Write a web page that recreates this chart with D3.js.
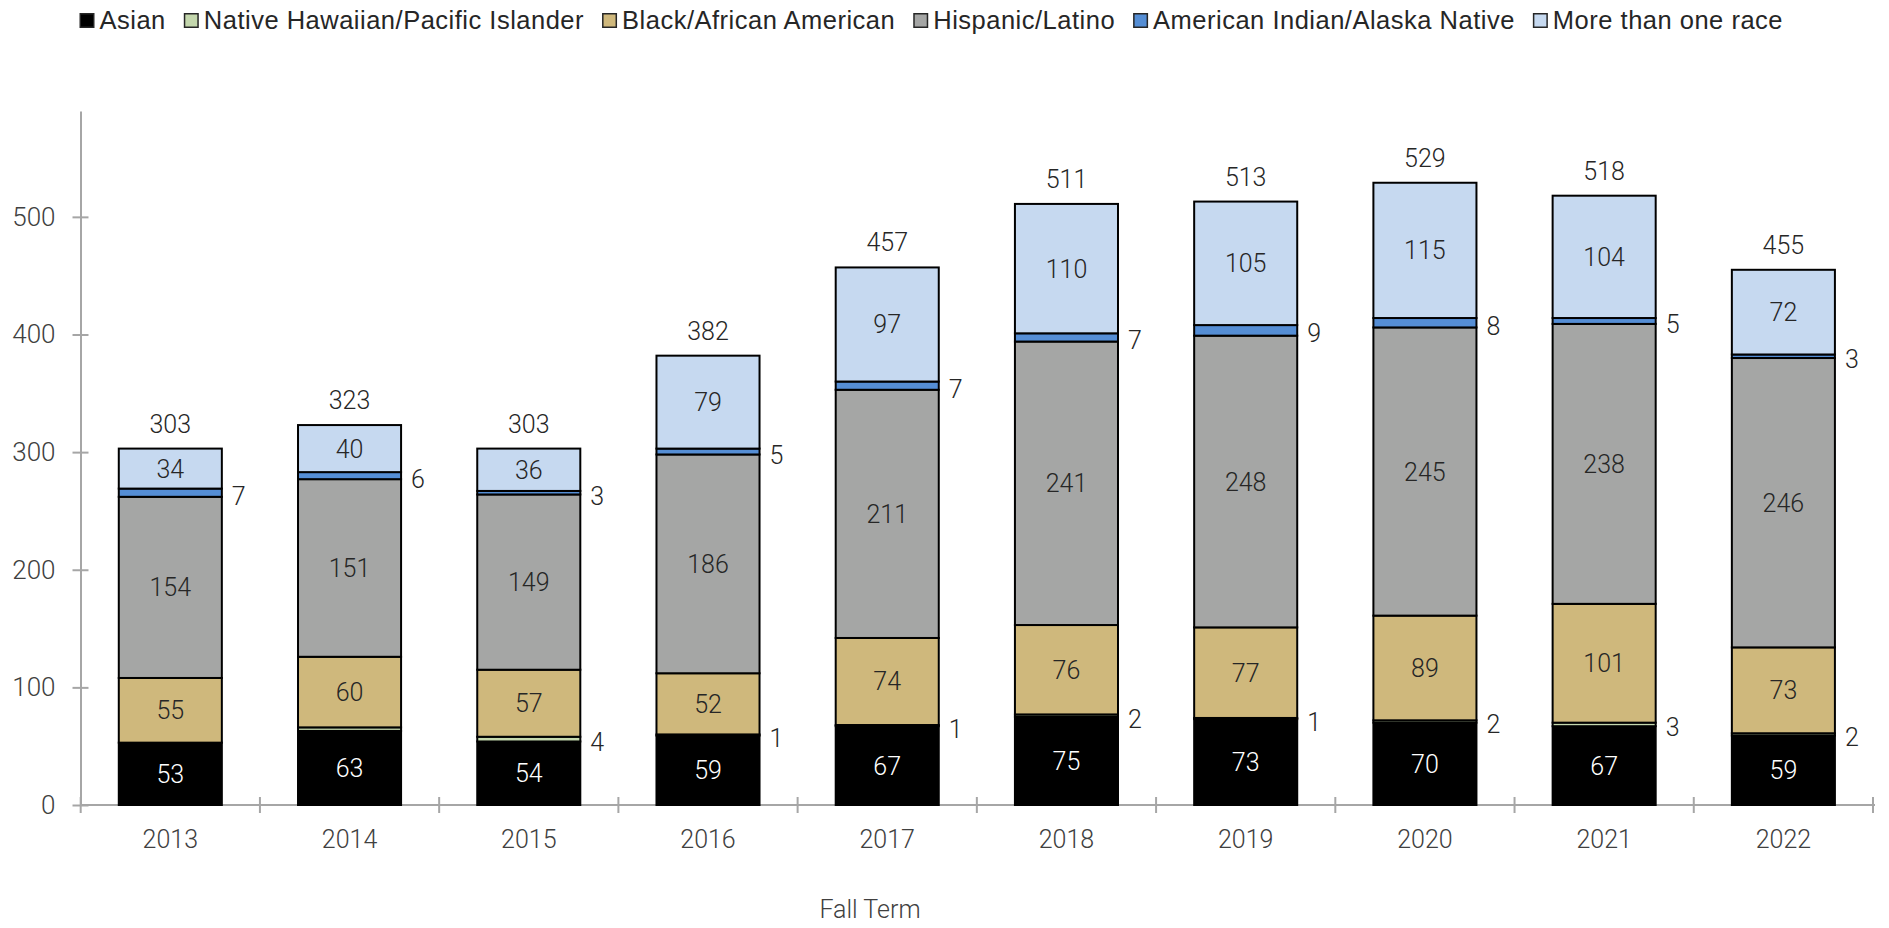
<!DOCTYPE html>
<html>
<head>
<meta charset="utf-8">
<script src="https://cdn.jsdelivr.net/npm/d3@7"></script>
<style>
  body { margin: 0; background: #fff; }
  svg { display: block; }
</style>
</head>
<body>
<script>
// DATA ––––––––––––––––––––––––––––––––––––––––––––––––––––––––––––––––––

var years = ["2013", "2014", "2015", "2016", "2017", "2018", "2019", "2020", "2021", "2022"];

var asian    = [53, 63, 54, 59, 67, 75, 73, 70, 67, 59];
var nhpi     = [0, 3, 4, 1, 1, 2, 1, 2, 3, 2];
var black    = [55, 60, 57, 52, 74, 76, 77, 89, 101, 73];
var hispanic = [154, 151, 149, 186, 211, 241, 248, 245, 238, 246];
var aian     = [7, 6, 3, 5, 7, 7, 9, 8, 5, 3];
var multi    = [34, 40, 36, 79, 97, 110, 105, 115, 104, 72];

// labels shown next to the small segments (blank = no label in the chart)
var nhpiLabels = ["", "", "4", "1", "1", "2", "1", "2", "3", "2"];
var aianLabels = ["7", "6", "3", "5", "7", "7", "9", "8", "5", "3"];

var seriesNames = ["Asian", "Native Hawaiian/Pacific Islander", "Black/African American",
                   "Hispanic/Latino", "American Indian/Alaska Native", "More than one race"];
var seriesColors = ["#000000", "#c4d7ad", "#cfb87c", "#a5a6a5", "#558ed5", "#c6d9f0"];

var yTicks = [0, 100, 200, 300, 400, 500];

// BUILD TABLE –––––––––––––––––––––––––––––––––––––––––––––––––––––––––––

var seriesValues = [asian, nhpi, black, hispanic, aian, multi];

var table = years.map(function(yr, i) {
  var row = {year: yr};
  seriesNames.forEach(function(name, s) { row[name] = seriesValues[s][i]; });
  return row;
});

var stacked = d3.stack().keys(seriesNames)(table);

// DRAW ––––––––––––––––––––––––––––––––––––––––––––––––––––––––––––––––––

var width = 1889,
    height = 928;

var svg = d3.select("body").append("svg")
    .attr("width", width)
    .attr("height", height);

var labelFont = "Roboto, 'Noto Sans', sans-serif";

var x = d3.scaleBand()
    .domain(years)
    .range([80.7, 1873])
    .paddingInner(0.425)
    .paddingOuter(0.2125);

var y = d3.scaleLinear()
    .domain([0, 590])
    .range([805, 111]);

// y axis
var yAxis = svg.append("g")
    .attr("transform", "translate(80.5,0)")
    .call(d3.axisLeft(y).tickValues(yTicks).tickSize(0).tickPadding(25));

yAxis.select(".domain").attr("stroke", "#a6a6a6").attr("stroke-width", 2);
yAxis.selectAll(".tick text")
    .attr("fill", "#404040")
    .style("font-family", labelFont)
    .style("font-weight", 300)
    .style("font-size", "26px");

yAxis.selectAll(".tick").append("line")
    .attr("x1", -8).attr("x2", 8)
    .attr("stroke", "#a6a6a6").attr("stroke-width", 2);

// x axis
var xAxis = svg.append("g")
    .attr("transform", "translate(0," + y(0) + ")");

xAxis.append("line")
    .attr("x1", 80.5).attr("x2", 1875)
    .attr("stroke", "#a6a6a6").attr("stroke-width", 2);

var step = x.step();
var boundaries = d3.range(years.length + 1).map(function(i) { return x.range()[0] + i * step; });

xAxis.selectAll(".cat-tick")
    .data(boundaries)
  .enter().append("line")
    .attr("class", "cat-tick")
    .attr("x1", function(d) { return d; })
    .attr("x2", function(d) { return d; })
    .attr("y1", -8).attr("y2", 8)
    .attr("stroke", "#a6a6a6").attr("stroke-width", 2);

xAxis.selectAll(".cat-label")
    .data(years)
  .enter().append("text")
    .attr("class", "cat-label")
    .attr("x", function(d) { return x(d) + x.bandwidth() / 2; })
    .attr("y", 43)
    .attr("text-anchor", "middle")
    .attr("fill", "#404040")
    .style("font-family", labelFont)
    .style("font-weight", 300)
    .style("font-size", "25px")
    .text(function(d) { return d; });

svg.append("text")
    .attr("x", 870)
    .attr("y", 918)
    .attr("text-anchor", "middle")
    .attr("fill", "#404040")
    .style("font-family", labelFont)
    .style("font-weight", 300)
    .style("font-size", "25px")
    .text("Fall Term");

// bars
var layers = svg.selectAll(".layer")
    .data(stacked)
  .enter().append("g")
    .attr("class", "layer")
    .attr("fill", function(d, i) { return seriesColors[i]; });

layers.selectAll("rect")
    .data(function(d) { return d.filter(function(p) { return p[1] - p[0] > 0; }); })
  .enter().append("rect")
    .attr("x", function(d) { return x(d.data.year); })
    .attr("y", function(d) { return y(d[1]); })
    .attr("width", x.bandwidth())
    .attr("height", function(d) { return y(d[0]) - y(d[1]); })
    .attr("stroke", "#000")
    .attr("stroke-width", 2);

// labels inside the big segments
var insideSeries = [0, 2, 3, 5];

insideSeries.forEach(function(s) {
  svg.append("g").selectAll("text")
      .data(stacked[s])
    .enter().append("text")
      .attr("x", function(d) { return x(d.data.year) + x.bandwidth() / 2; })
      .attr("y", function(d) { return (y(d[0]) + y(d[1])) / 2; })
      .attr("dy", "0.36em")
      .attr("text-anchor", "middle")
      .attr("fill", s === 0 ? "#ffffff" : "#262626")
      .style("font-family", labelFont)
      .style("font-weight", 300)
      .style("font-size", "25px")
      .text(function(d) { return d[1] - d[0]; });
});

// labels for the thin segments, right of the bar
[[1, nhpiLabels], [4, aianLabels]].forEach(function(pair) {
  var s = pair[0], labels = pair[1];
  svg.append("g").selectAll("text")
      .data(stacked[s])
    .enter().append("text")
      .attr("x", function(d) { return x(d.data.year) + x.bandwidth() + 10; })
      .attr("y", function(d) { return (y(d[0]) + y(d[1])) / 2 + 3; })
      .attr("dy", "0.36em")
      .attr("fill", "#262626")
      .style("font-family", labelFont)
      .style("font-weight", 300)
      .style("font-size", "25px")
      .text(function(d, i) { return labels[i]; });
});

// totals above bars
var topLayer = stacked[stacked.length - 1];

svg.append("g").selectAll("text")
    .data(topLayer)
  .enter().append("text")
    .attr("x", function(d) { return x(d.data.year) + x.bandwidth() / 2; })
    .attr("y", function(d) { return y(d[1]) - 16; })
    .attr("text-anchor", "middle")
    .attr("fill", "#262626")
    .style("font-family", labelFont)
    .style("font-weight", 300)
    .style("font-size", "25px")
    .text(function(d) { return d[1]; });

// legend
var legend = svg.append("g").attr("transform", "translate(79.5,0)");
var cursor = 0;

seriesNames.forEach(function(name, i) {
  var item = legend.append("g").attr("transform", "translate(" + cursor + ",0)");
  item.append("rect")
    .attr("x", 0.75).attr("y", 13.75)
    .attr("width", 13.5).attr("height", 13.5)
    .attr("fill", seriesColors[i])
    .attr("stroke", "#262626")
    .attr("stroke-width", 1.5);
  var t = item.append("text")
    .attr("x", 20)
    .attr("y", 29)
    .attr("fill", "#262626")
    .style("font-family", "'Liberation Sans', Arial, sans-serif")
    .style("font-size", "25.5px")
    .style("letter-spacing", "0.5px")
    .text(name);
  cursor += 20 + t.node().getComputedTextLength() + 18;
});
</script>
</body>
</html>
